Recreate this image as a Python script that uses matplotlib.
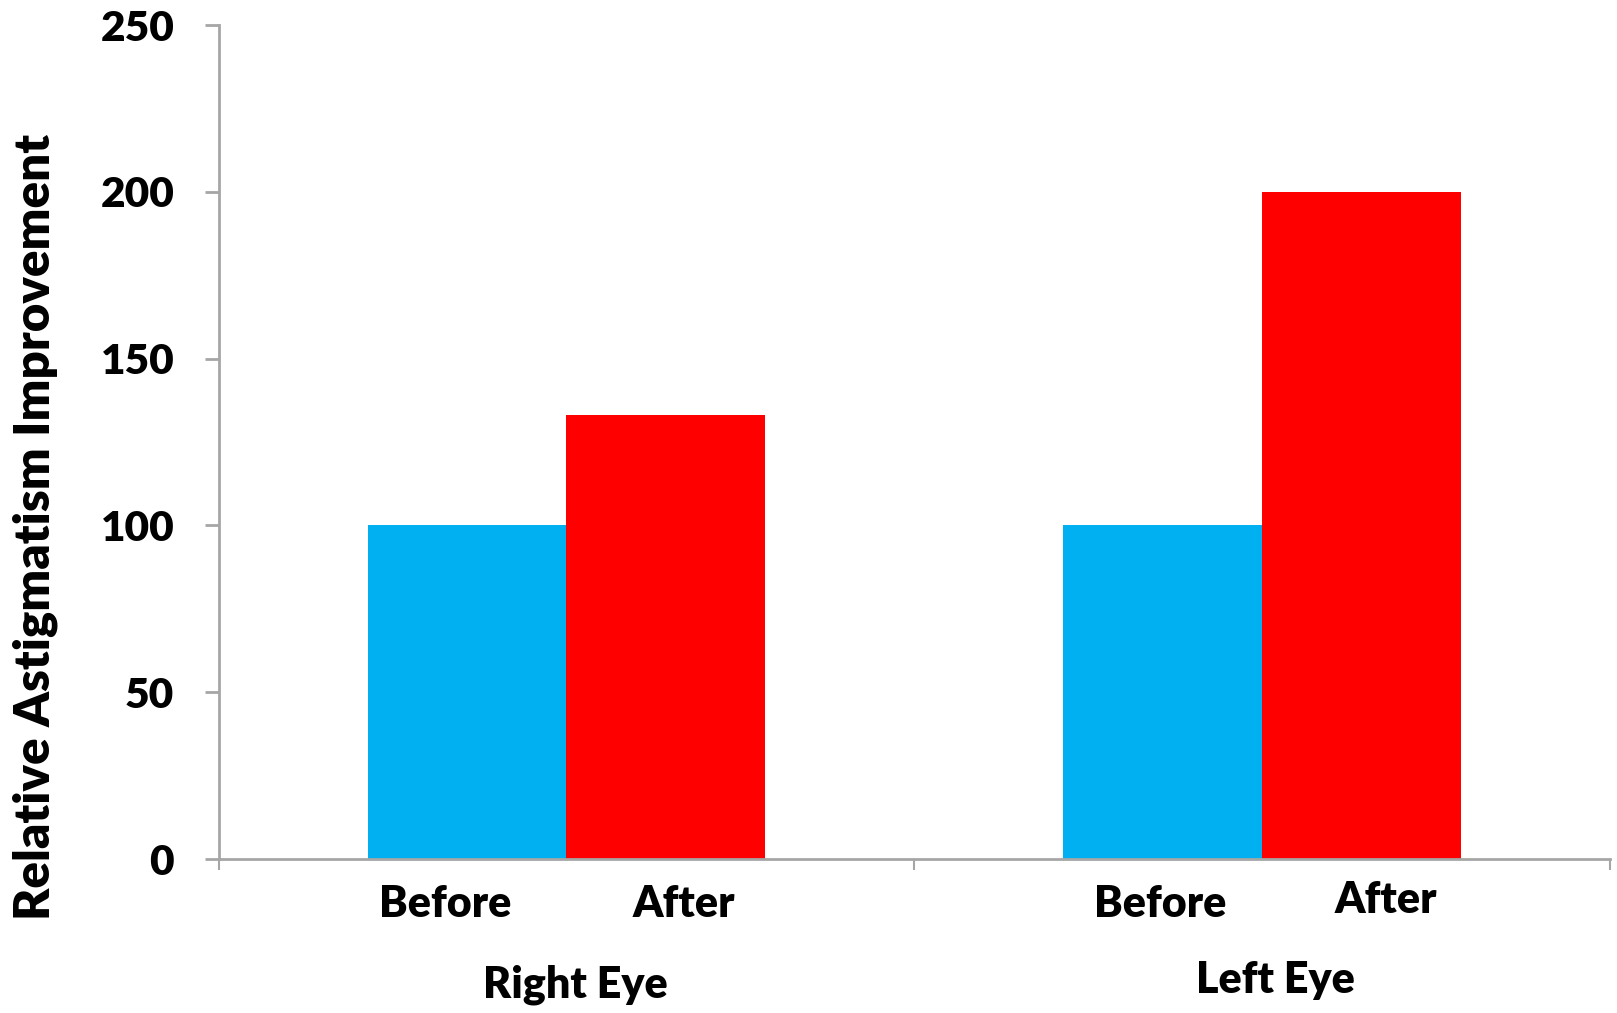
import matplotlib
matplotlib.use("Agg")
import matplotlib.pyplot as plt
import numpy as np

plt.rcParams['font.family'] = ['Lato', 'DejaVu Sans']
plt.rcParams['font.weight'] = 'heavy'

# data
eyes = ['Right Eye', 'Left Eye']
stages = ['Before', 'After']
before = [100, 100]
after = [133, 200]
yticks = [0, 50, 100, 150, 200, 250]

blue = '#00B0F0'
red = '#FF0000'
grey = '#A6A6A6'
wt = 'heavy'

fig = plt.figure(figsize=(16.17, 10.13), dpi=100)
ax = fig.add_axes([0.1352, 0.152, 0.8605, 0.8233])

x = np.arange(len(eyes))
w = 0.286
ax.bar(x - w / 2, before, w, color=blue, linewidth=0)
ax.bar(x + w / 2, after, w, color=red, linewidth=0)

ax.set_xlim(-0.5, 1.5)
ax.set_ylim(0, 250)

ax.spines['top'].set_visible(False)
ax.spines['right'].set_visible(False)
for s in ['left', 'bottom']:
    ax.spines[s].set_color(grey)
    ax.spines[s].set_linewidth(2)

ax.set_yticks(yticks)
ax.set_yticklabels([str(v) for v in yticks], fontsize=30.5, fontweight=wt)
ax.tick_params(axis='y', length=10, width=2, color=grey, pad=22)

# category boundary ticks on x
ax.set_xticks([-0.5, 0.5, 1.5])
ax.set_xticklabels([])
ax.tick_params(axis='x', length=8, width=1.5, color=grey)

# stage labels under each bar (slight nudges like the original)
nudges = [[-0.032, 0.026], [-0.003, 0.034]]
ylift = [[0, 0], [0, 4]]
eye_nudge = [0.013, 0.019]
for i in range(len(eyes)):
    for j, st in enumerate(stages):
        xc = x[i] + (j - 0.5) * w + nudges[i][j]
        ax.annotate(st, xy=(xc, 0), xycoords='data', xytext=(0, -45 + ylift[i][j]),
                    textcoords='offset pixels', ha='center', va='center',
                    fontsize=31, fontweight=wt)
    ax.annotate(eyes[i], xy=(x[i] + eye_nudge[i], 0), xycoords='data',
                xytext=(0, -126 + 5 * i), textcoords='offset pixels',
                ha='center', va='center', fontsize=31, fontweight=wt)

fig.text(0.022, 0.48, 'Relative Astigmatism Improvement', rotation=90,
         ha='center', va='center', fontsize=35.5, fontweight=wt)

fig.savefig('out.png', dpi=100)
